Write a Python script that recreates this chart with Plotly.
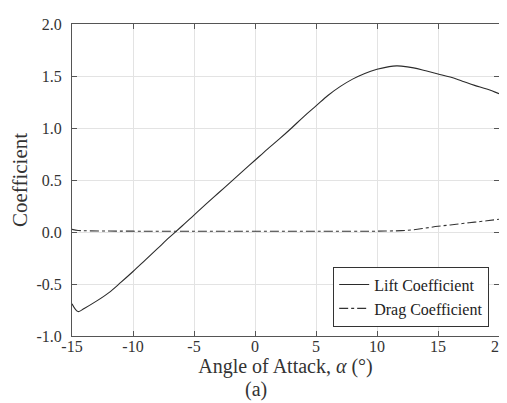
import plotly.graph_objects as go

alpha_lift = [-15, -14.5, -14, -13, -12, -11, -10, -9, -8, -7, -6, -5, -4, -3, -2, -1, 0,
              1, 2, 3, 4, 5, 6, 7, 8, 9, 10, 11, 11.6, 12, 13, 14, 15, 16, 17, 18, 19, 20]
cl = [-0.69, -0.765, -0.735, -0.665, -0.585, -0.485, -0.38, -0.27, -0.16, -0.05, 0.055, 0.163,
      0.27, 0.375, 0.48, 0.585, 0.69,
      0.795, 0.895, 1.0, 1.11, 1.212, 1.315, 1.4, 1.47, 1.525, 1.564, 1.59, 1.597, 1.595,
      1.578, 1.55, 1.52, 1.49, 1.45, 1.41, 1.375, 1.33]

alpha_drag = [-15, -14.5, -14, -12, -10, -5, 0, 5, 10, 11, 12, 13, 14, 15, 16, 17, 18, 19, 20]
cd = [0.025, 0.015, 0.012, 0.009, 0.008, 0.007, 0.007, 0.007, 0.008, 0.010, 0.013, 0.022,
      0.038, 0.055, 0.068, 0.082, 0.095, 0.108, 0.122]

x_ticks = [-15, -10, -5, 0, 5, 10, 15, 20]
x_ticklabels = ["-15", "-10", "-5", "0", "5", "10", "15", "20"]
y_ticks = [-1.0, -0.5, 0.0, 0.5, 1.0, 1.5, 2.0]
y_ticklabels = ["-1.0", "-0.5", "0.0", "0.5", "1.0", "1.5", "2.0"]

fig = go.Figure()
fig.add_trace(go.Scatter(x=alpha_lift, y=cl, mode="lines", name="Lift Coefficient",
                         line=dict(color="#2b2b2b", width=1.1, shape="spline")))
fig.add_trace(go.Scatter(x=alpha_drag, y=cd, mode="lines", name="Drag Coefficient",
                         line=dict(color="#333333", width=1.1, dash="dashdot", shape="spline")))

font = "Liberation Serif"
axis_common = dict(showline=True, linecolor="#555555", linewidth=1, mirror="ticks",
                   ticks="inside", ticklen=5, tickcolor="#555555",
                   showgrid=True, gridcolor="#e3e3e3", gridwidth=1, zeroline=False,
                   tickfont=dict(family=font, size=16, color="#333333"))

fig.update_layout(
    width=507, height=403,
    margin=dict(l=64, r=8, t=14, b=75),
    paper_bgcolor="white", plot_bgcolor="white",
    font=dict(family=font, color="#333333"),
    showlegend=True,
    legend=dict(x=0.977, y=0.03, xanchor="right", yanchor="bottom",
                bgcolor="white", bordercolor="#333333", borderwidth=1,
                font=dict(family=font, size=16, color="#222222"),
                tracegroupgap=0, itemwidth=30),
    xaxis=dict(range=[-15, 20], tickvals=x_ticks, ticktext=x_ticklabels,
               ticklabelstandoff=-4,
               title=dict(text="Angle of Attack, <i>α</i> (°)", font=dict(family=font, size=20),
                          standoff=0),
               **axis_common),
    yaxis=dict(range=[-1.0, 2.0], tickvals=y_ticks, ticktext=y_ticklabels,
               ticklabelstandoff=6,
               title=dict(text="Coefficient", font=dict(family=font, size=21), standoff=6),
               **axis_common),
    annotations=[dict(text="(a)", x=0.5, y=0, xref="paper", yref="paper",
                      yshift=-40, xshift=-30, yanchor="top", showarrow=False,
                      font=dict(family=font, size=20, color="#333333"))],
)

fig.write_html("out.html")
